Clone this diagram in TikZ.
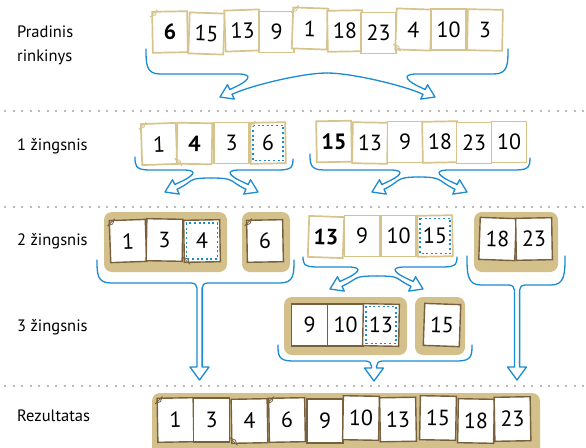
\documentclass[tikz,border=0pt]{standalone}
\usepackage{fontspec}
\setmainfont{PT Sans}
\definecolor{tanline}{RGB}{214,196,140}
\definecolor{tanbg}{RGB}{211,192,138}
\definecolor{cardbrown}{RGB}{120,96,62}
\definecolor{arrowblue}{RGB}{26,140,212}
\tikzset{
  lcard/.style={draw=tanline, fill=white, line width=1.7pt, minimum width=35pt, minimum height=41pt, inner sep=0pt, font=\fontsize{22}{22}\selectfont},
  dcard/.style={lcard, draw=cardbrown, line width=1.4pt, minimum width=36pt, minimum height=42pt},
  grp/.style={fill=tanbg, rounded corners=8pt},
  blu/.style={draw=arrowblue, line width=1.3pt, line join=round, line cap=round},
  sep/.style={draw=gray!55, line width=2pt, dash pattern=on 2pt off 6.5pt},
  lab/.style={anchor=west, font=\fontsize{16.5}{24}\selectfont, align=left, inner sep=0pt},
  pivline/.style={draw=arrowblue, line width=1.5pt, dash pattern=on 2pt off 2.6pt},
  earline/.style={line width=0.8pt, line join=round}
}
\newcommand{\pivot}[1]{\draw[pivline] ([shift={(3.5,3.5)}]#1.north west) rectangle ([shift={(-3.5,-3.5)}]#1.south east);}
% dog-ear marks: #1 node, #2 colour
\newcommand{\eartl}[2]{\draw[earline, draw=#2, fill=white] ([shift={(-1,6)}]#1.north west) -- ([shift={(4,4)}]#1.north west) -- ([shift={(6,-1)}]#1.north west) -- cycle;}
\newcommand{\earbl}[2]{\draw[earline, draw=#2, fill=white] ([shift={(-1,-6)}]#1.south west) -- ([shift={(4,-4)}]#1.south west) -- ([shift={(6,1)}]#1.south west) -- cycle;}
% #1 side, #2 Lx, #3 endY, #4 braceY, #5 Tx, #6 Ty, #7 Cx, #8 archY
\newcommand{\halfsplit}[8]{%
  \draw[blu] (#2,#3) .. controls +(0,{0.6*(#4-#3)}) and +({0-(#1)*14},0) .. ({#2+(#1)*14},#4)
    -- ({#5+(#1)*18},#4) .. controls +({(#1)*18},0) and +({(#1)*11},-5) .. ({#5+(#1)*15.2},{#6-10})
    -- ({#5+(#1)*9.8},{#6-7.5}) -- ({#5+(#1)*7.5},{#6-12.3}) -- (#5,#6)
    -- ({#5+(#1)*14.3},{#6+2.1}) -- ({#5+(#1)*12},{#6-2.7})
    .. controls +({(#1)*18},-8.5) and ({#7-(#1)*25},#8) .. (#7,#8);}
% #1 Lx, #2 Rx, #3 endY, #4 braceY, #5 Cx, #6 baseY, #7 tipY
\newcommand{\mergearrow}[7]{%
  \draw[blu] (#1,#3) .. controls +(0,{0.6*(#4-#3)}) and +(-14,0) .. ({#1+14},#4)
    -- ({#5-8.6},#4) .. controls +(4,0) and +(0,-3) .. ({#5-2.6},{#4+5})
    -- ({#5-2.6},#6) -- ({#5-9.5},#6) -- (#5,#7) -- ({#5+9.5},#6) -- ({#5+2.6},#6)
    -- ({#5+2.6},{#4+5}) .. controls +(0,-3) and +(-4,0) .. ({#5+8.6},#4)
    -- ({#2-14},#4) .. controls +(14,0) and +(0,{0.6*(#4-#3)}) .. (#2,#3);}
\begin{document}
\begin{tikzpicture}[x=1pt,y=-1pt]
\useasboundingbox[fill=white] (0,0) rectangle (586,447);
% separators
\coordinate (s1a) at (4,111); \coordinate (s1b) at (586,111);
\coordinate (s2a) at (4,207); \coordinate (s2b) at (586,207);
\coordinate (s3a) at (4,386); \coordinate (s3b) at (586,386);
\draw[sep] (s1a) -- (s1b);
\draw[sep] (s2a) -- (s2b);
\draw[sep] (s3a) -- (s3b);
% labels
\node[lab] (l0) at (17,45) {Pradinis\\rinkinys};
\node[lab] (l1) at (17,146) {1 žingsnis};
\node[lab] (l2) at (17,241) {2 žingsnis};
\node[lab] (l3) at (17,327) {3 žingsnis};
\node[lab] (l4) at (17,416) {Rezultatas};
% row 0
\node[lcard, rotate=1] (r0a) at (170,32) {\textbf{6}};
\node[lcard, rotate=-2] (r0b) at (206.5,33.5) {15};
\node[lcard, rotate=2] (r0c) at (242.5,30.5) {13};
\node[lcard] (r0d) at (276.5,32) {9};
\node[lcard, rotate=-2] (r0e) at (310,28.5) {1};
\node[lcard, rotate=1] (r0f) at (345,31) {18};
\node[lcard] (r0g) at (378.5,33) {23};
\node[lcard, rotate=-2] (r0h) at (413.5,29.5) {4};
\node[lcard] (r0i) at (448.5,29.5) {10};
\node[lcard, rotate=-1] (r0j) at (485,30) {3};
\eartl{r0a}{tanline} \eartl{r0e}{tanline} \earbl{r0h}{tanline}
\halfsplit{1}{146}{49}{74}{220}{97}{327}{73}
\halfsplit{-1}{508}{49}{74}{435}{97}{327}{73}
% row 1
\node[lcard, rotate=2] (r1a) at (159,144) {1};
\node[lcard, rotate=-1] (r1b) at (194.5,143.5) {\textbf{4}};
\node[lcard] (r1c) at (231.5,143) {3};
\node[lcard, rotate=1] (r1d) at (268,143) {6};
\pivot{r1d}
\eartl{r1a}{tanline} \earbl{r1b}{tanline} \eartl{r1d}{tanline}
\node[lcard, rotate=1] (r1e) at (334,141.5) {\textbf{15}};
\node[lcard, rotate=-1] (r1f) at (370,143) {13};
\node[lcard] (r1g) at (405,142) {9};
\node[lcard, rotate=1] (r1h) at (440,142) {18};
\node[lcard] (r1i) at (474,143) {23};
\node[lcard] (r1j) at (509,142) {10};
\halfsplit{1}{135}{157}{170}{165}{192}{211}{178}
\halfsplit{-1}{293}{159}{170}{258}{192}{211}{178}
\halfsplit{1}{310}{154}{170}{372}{192}{419}{177}
\halfsplit{-1}{530}{158}{170}{467}{192}{419}{177}
% row 2
\path[grp] (104,212) rectangle (227,272);
\path[grp] (242,212) rectangle (290,272);
\path[grp] (474,212) rectangle (558,272);
\node[dcard, rotate=2] (r2a) at (128,241) {1};
\node[dcard, rotate=-1] (r2b) at (164.5,240) {3};
\node[dcard, rotate=1] (r2c) at (202,241) {4};
\pivot{r2c}
\node[dcard, rotate=1] (r2d) at (265,241) {6};
\eartl{r2a}{cardbrown} \earbl{r2c}{cardbrown} \eartl{r2d}{cardbrown}
\node[lcard, rotate=-2] (r2e) at (326,237) {\textbf{13}};
\node[lcard] (r2f) at (362,236) {9};
\node[lcard] (r2g) at (398.5,236) {10};
\node[lcard, rotate=1] (r2h) at (435,236) {15};
\pivot{r2h}
\node[dcard, rotate=-2] (r2i) at (497.5,239) {18};
\node[dcard, rotate=1] (r2j) at (534,239) {23};
\halfsplit{1}{303}{257}{267}{330}{289}{377}{276}
\halfsplit{-1}{457}{257}{267}{423}{289}{377}{276}
\mergearrow{97}{294}{260}{283}{199.5}{367}{380}
\mergearrow{467}{565}{256}{285}{517}{367}{380}
% row 3
\path[grp] (284,297) rectangle (407,355);
\path[grp] (415,297) rectangle (465,355);
\node[dcard] (r3a) at (309.5,325) {9};
\node[dcard] (r3b) at (345.5,325) {10};
\node[dcard, rotate=-1] (r3c) at (381,325) {13};
\pivot{r3c}
\node[dcard, rotate=-2] (r3d) at (442,325) {15};
\mergearrow{278}{472}{345}{361}{374}{368}{381}
% result
\path[grp] (152,393) rectangle (540,462);
\node[dcard, minimum height=44pt, rotate=1] (r4a) at (175.5,420) {1};
\node[dcard, minimum height=44pt] (r4b) at (211.5,420) {3};
\node[dcard, minimum height=44pt, rotate=1] (r4c) at (249.5,421) {4};
\node[dcard, minimum height=44pt, rotate=1] (r4d) at (287,420) {6};
\node[dcard, minimum height=44pt] (r4e) at (325,421) {9};
\node[dcard, minimum height=44pt, rotate=-1] (r4f) at (361,418) {10};
\node[dcard, minimum height=44pt, rotate=1] (r4g) at (398,419.5) {13};
\node[dcard, minimum height=44pt, rotate=-1] (r4h) at (438,418) {15};
\node[dcard, minimum height=44pt, rotate=-1] (r4i) at (476,421) {18};
\node[dcard, minimum height=44pt, rotate=1] (r4j) at (512.5,419) {23};
\eartl{r4a}{cardbrown} \earbl{r4c}{cardbrown} \eartl{r4d}{cardbrown}
\end{tikzpicture}
\end{document}
